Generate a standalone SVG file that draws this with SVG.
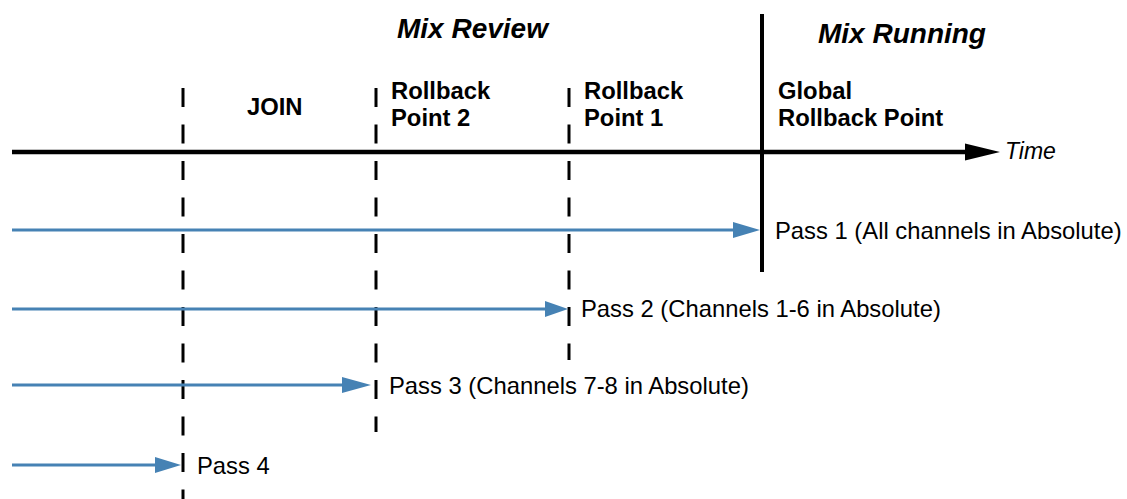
<svg xmlns="http://www.w3.org/2000/svg" width="1127" height="499" viewBox="0 0 1127 499">
<defs>
<style>
.t{font-family:"Liberation Sans",Arial,sans-serif;fill:#000}
.h{font-size:28px;font-weight:bold;font-style:italic}
.b{font-size:23.8px;font-weight:bold}
.p{font-size:23.8px}
.it{font-size:23px;font-style:italic}
.dash{stroke:#000;stroke-width:3;stroke-dasharray:19 17.5;fill:none}
.pass{stroke:#4682b4;stroke-width:3;fill:none}
.ah{fill:#4682b4}
</style>
</defs>
<rect width="1127" height="499" fill="#fff"/>
<g id="connectors">
<line x1="12" y1="152" x2="968" y2="152" stroke="#000" stroke-width="4.5"/>
<polygon points="965,143.5 1000,152 965,160.5" fill="#000"/>
<line x1="762" y1="14" x2="762" y2="272" stroke="#000" stroke-width="4"/>
<line class="dash" x1="183" y1="88" x2="183" y2="499"/>
<line class="dash" x1="376" y1="88" x2="376" y2="432"/>
<line class="dash" x1="569" y1="88" x2="569" y2="360"/>
<g id="pass1"><line class="pass" x1="12" y1="230" x2="736" y2="230"/><polygon class="ah" points="733,222 760,230 733,238"/></g>
<g id="pass2"><line class="pass" x1="12" y1="309" x2="548" y2="309"/><polygon class="ah" points="545,301 568,309 545,317"/></g>
<g id="pass3"><line class="pass" x1="12" y1="385" x2="345" y2="385"/><polygon class="ah" points="342,377 371,385 342,393"/></g>
<g id="pass4"><line class="pass" x1="12" y1="465" x2="158" y2="465"/><polygon class="ah" points="155,457 181,465 155,473"/></g>
</g>
<g id="mix-review"><text class="t h" x="397" y="38">Mix Review</text></g>
<g id="mix-running"><text class="t h" x="818" y="43">Mix Running</text></g>
<g id="join"><text class="t b" x="247" y="115">JOIN</text></g>
<g id="rollback2"><text class="t b" x="391" y="99">Rollback</text><text class="t b" x="391" y="126">Point 2</text></g>
<g id="rollback1"><text class="t b" x="584" y="99">Rollback</text><text class="t b" x="584" y="126">Point 1</text></g>
<g id="global"><text class="t b" x="778" y="99">Global</text><text class="t b" x="778" y="126">Rollback Point</text></g>
<g id="time"><text class="t it" x="1005" y="159">Time</text></g>
<g id="l1"><text class="t p" x="775" y="239">Pass 1 (All channels in Absolute)</text></g>
<g id="l2"><text class="t p" x="581" y="317">Pass 2 (Channels 1-6 in Absolute)</text></g>
<g id="l3"><text class="t p" x="389" y="394">Pass 3 (Channels 7-8 in Absolute)</text></g>
<g id="l4"><text class="t p" x="197" y="474">Pass 4</text></g>
</svg>
